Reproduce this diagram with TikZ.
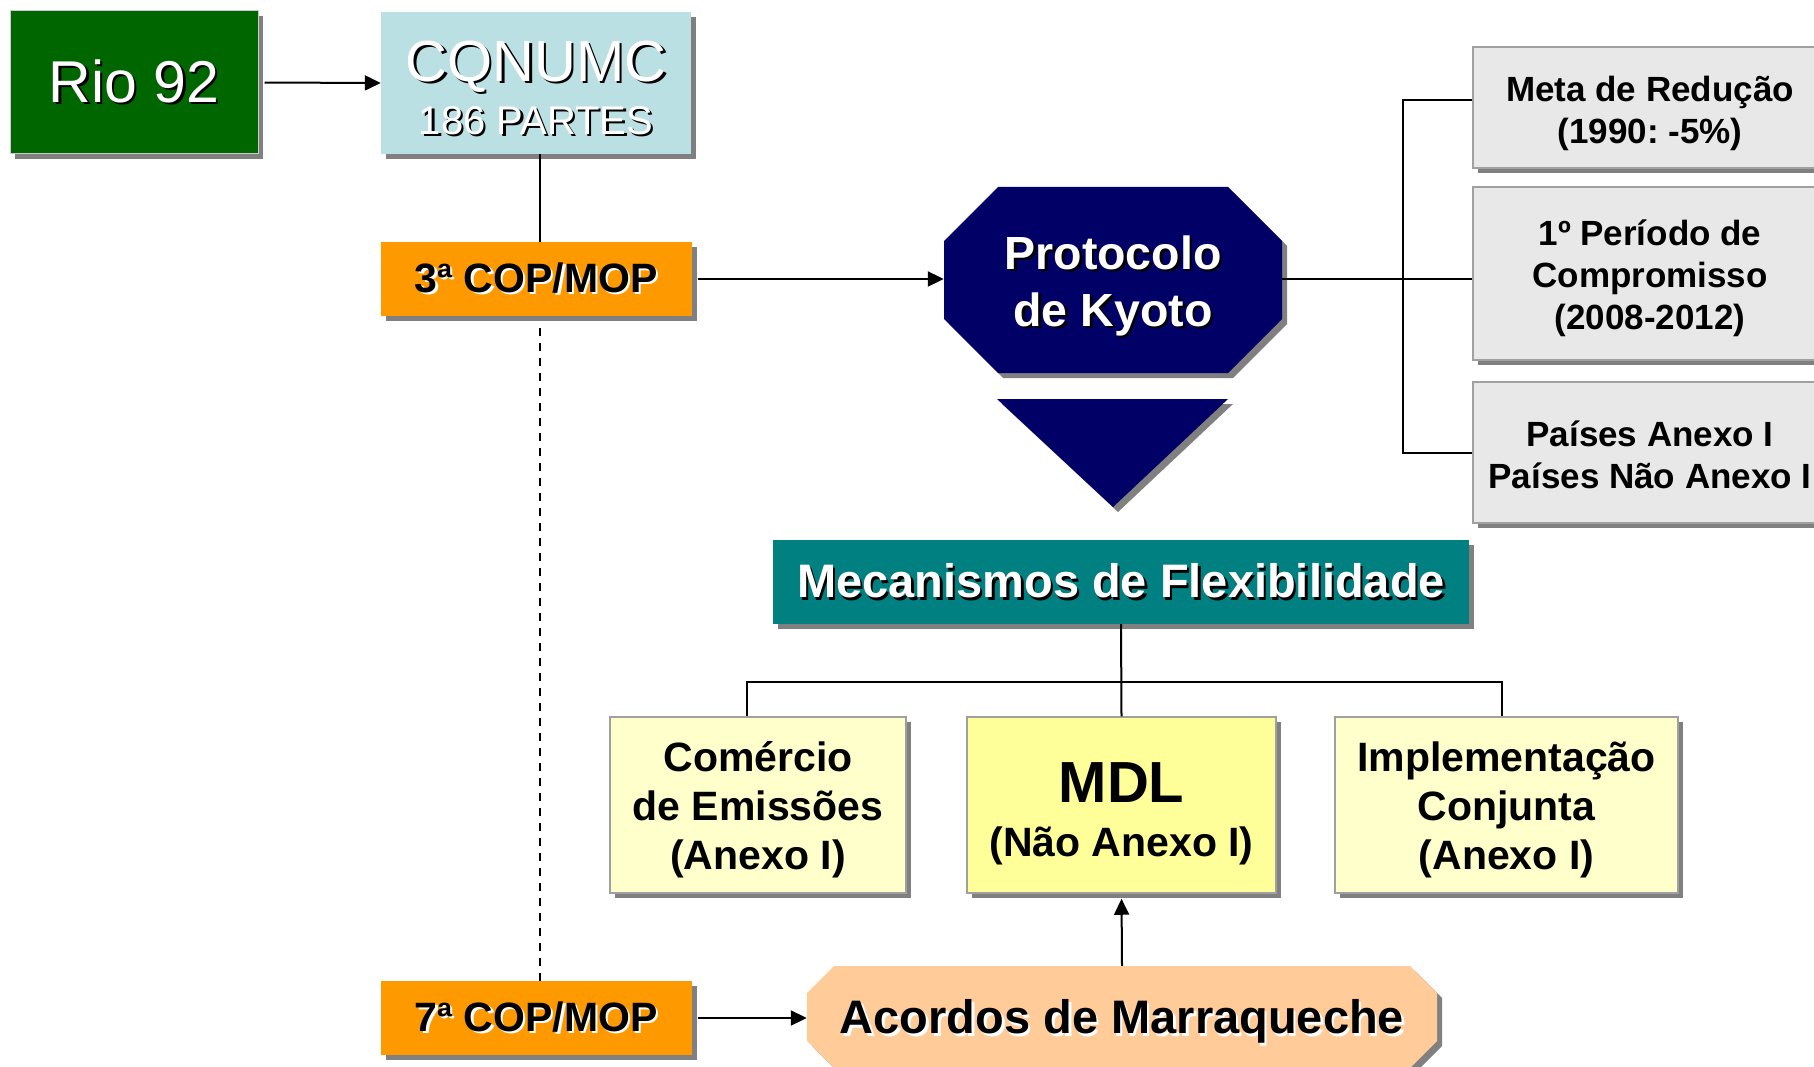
\documentclass[tikz,border=0pt]{standalone}
\usepackage{fontspec}
\setmainfont{Liberation Sans}
\frenchspacing
\usetikzlibrary{arrows.meta,shadows}
\definecolor{riogreen}{HTML}{006600}
\definecolor{cqblue}{HTML}{BBE0E3}
\definecolor{coporange}{HTML}{FF9900}
\definecolor{kyotoblue}{HTML}{000066}
\definecolor{mecteal}{HTML}{008080}
\definecolor{boxgray}{HTML}{E8E8E8}
\definecolor{paleyellow}{HTML}{FFFFCC}
\definecolor{mdlyellow}{HTML}{FFFF99}
\definecolor{acpeach}{HTML}{FFCC99}
\definecolor{shadowgray}{HTML}{808080}
\definecolor{bordergray}{HTML}{A0A0A0}
\newcommand\shw[1]{\leavevmode\rlap{\kern2.5pt\raisebox{-2.5pt}{\color{black}#1}}#1}
\newcommand\shb[1]{\leavevmode\rlap{\kern2.5pt\raisebox{-2.5pt}{\color{white}#1}}#1}
\tikzset{
  boxshadow/.style={drop shadow={shadow xshift=5pt,shadow yshift=-5pt,fill=shadowgray,opacity=1}},
  basebox/.style={rectangle,inner sep=0pt,align=center,boxshadow},
  textonly/.style={rectangle,inner sep=0pt,align=center},
  riobox/.style={basebox,fill=riogreen,draw=black!20,line width=1pt,text=white,
     minimum width=248pt,minimum height=143pt,font=\fontsize{59}{60}\selectfont},
  cqbox/.style={basebox,fill=cqblue,minimum width=310pt,minimum height=142pt},
  cqtext/.style={textonly,text=white,font=\fontsize{40}{53}\selectfont},
  copbox/.style={basebox,fill=coporange,text=black,minimum width=311pt,minimum height=74pt,
     font=\bfseries\fontsize{41}{44}\selectfont},
  graybox/.style={basebox,fill=boxgray,draw=bordergray,line width=1.5pt,minimum width=354pt},
  graytext/.style={textonly,text=black,font=\bfseries\fontsize{35}{42}\selectfont},
  mecbox/.style={basebox,fill=mecteal,text=white,minimum width=696pt,minimum height=84pt,
     font=\bfseries\fontsize{47}{50}\selectfont},
  yelbox/.style={basebox,fill=paleyellow,draw=bordergray,line width=1.5pt,minimum height=176pt},
  yeltext/.style={textonly,text=black,font=\bfseries\fontsize{41}{49}\selectfont},
  conn/.style={draw=black,line width=2pt},
  arr/.style={conn,-{Triangle[length=16pt,width=15pt]}},
}
\begin{document}
\begin{tikzpicture}[x=1pt,y=-1pt]
\useasboundingbox (0,0) rectangle (1814,1067);
\fill[white] (0,0) rectangle (1814,1067);
\clip (0,0) rectangle (1814,1067);

% top-left
\node[riobox] (rio) at (134,82.5) {\shw{Rio 92}};
\node[cqbox] (cq) at (536,83) {};
\node[cqtext] (cqt) at (536,89) {{\fontsize{58}{53}\selectfont\shw{CQNUMC}}\\\shw{186 PARTES}};
\node[copbox] (cop3) at (536,279) {\shb{3ª COP/MOP}};
\node[copbox] (cop7) at (536,1018) {\shb{7ª COP/MOP}};

% Protocolo de Kyoto octagon
\fill[shadowgray,shift={(5,5)}] (998,187) -- (1228,187) -- (1282,241) -- (1282,319) -- (1228,373) -- (998,373) -- (944,319) -- (944,241) -- cycle;
\fill[kyotoblue] (998,187) -- (1228,187) -- (1282,241) -- (1282,319) -- (1228,373) -- (998,373) -- (944,319) -- (944,241) -- cycle;
\node[textonly,text=white,minimum width=338pt,minimum height=186pt,font=\bfseries\fontsize{46.5}{57}\selectfont] (kyoto) at (1113,287) {\shw{Protocolo}\\\shw{de Kyoto}};

% down triangle
\fill[shadowgray,shift={(5,5)}] (997,399) -- (1228,399) -- (1113,507) -- cycle;
\fill[kyotoblue] (997,399) -- (1228,399) -- (1113,507) -- cycle;

% right boxes
\node[graybox,minimum height=121pt] (meta) at (1650,107.5) {};
\node[graytext] (metat) at (1650,113.5) {Meta de Redução\\(1990: -5\%)};
\node[graybox,minimum height=173pt] (per) at (1650,273.5) {};
\node[graytext] (pert) at (1650,278.5) {1º Período de\\Compromisso\\(2008-2012)};
\node[graybox,minimum height=141pt] (pai) at (1650,452.5) {};
\node[graytext] (pait) at (1650,455) {Países Anexo I\\Países Não Anexo I};

% mecanismos
\node[mecbox] (mec) at (1121,582) {\shw{Mecanismos de Flexibilidade}};
\node[yelbox,minimum width=296pt] (com) at (758,805) {};
\node[yeltext] (comt) at (758,810) {Comércio\\de Emissões\\(Anexo I)};
\node[yelbox,fill=mdlyellow,minimum width=309pt] (mdl) at (1121.5,805) {};
\node[yeltext,font=\bfseries\fontsize{41}{54}\selectfont] (mdlt) at (1121.5,814) {{\fontsize{58}{54}\selectfont MDL}\\(Não Anexo I)};
\node[yelbox,minimum width=343pt] (imp) at (1506.5,805) {};
\node[yeltext] (impt) at (1506.5,810) {Implementação\\Conjunta\\(Anexo I)};

% Acordos de Marraqueche
\fill[shadowgray,shift={(5,5)}] (834,966) -- (1410,966) -- (1437,993) -- (1437,1041) -- (1410,1068) -- (834,1068) -- (807,1041) -- (807,993) -- cycle;
\fill[acpeach] (834,966) -- (1410,966) -- (1437,993) -- (1437,1041) -- (1410,1068) -- (834,1068) -- (807,1041) -- (807,993) -- cycle;
\node[textonly,text=black,minimum width=630pt,minimum height=114pt,font=\bfseries\fontsize{47}{50}\selectfont] (acordos) at (1122,1023) {\shb{Acordos de Marraqueche}};

% connectors
\draw[arr,shorten <=6pt] (rio.east) -- (cq.west);
\draw[conn] ([xshift=4pt]cq.south) -- ([xshift=4pt]cop3.north);
\draw[conn,dash pattern=on 8pt off 7pt,shorten <=12pt] ([xshift=4pt]cop3.south) -- ([xshift=4pt]cop7.north);
\draw[arr,shorten <=6pt] (cop3.east) -- (cop3.east -| kyoto.west);
\draw[conn] (cop3.east -| kyoto.east) -- (cop3.east -| per.west);
\coordinate (bt) at (1403,100);
\coordinate (bb) at (1403,453);
\draw[conn] (bt -| meta.west) -- (bt) -- (bb) -- (bb -| pai.west);
\draw[conn] (mec.south) -- (mdl.north);
\coordinate (busl) at (747,682);
\coordinate (busr) at (1502,682);
\draw[conn] (busl |- com.north) -- (busl) -- (busr) -- (busr |- imp.north);
\draw[arr,shorten >=5pt] (acordos.north) -- (mdl.south);
\draw[arr,shorten <=6pt] (cop7.east) -- (cop7.east -| acordos.west);
\end{tikzpicture}
\end{document}
